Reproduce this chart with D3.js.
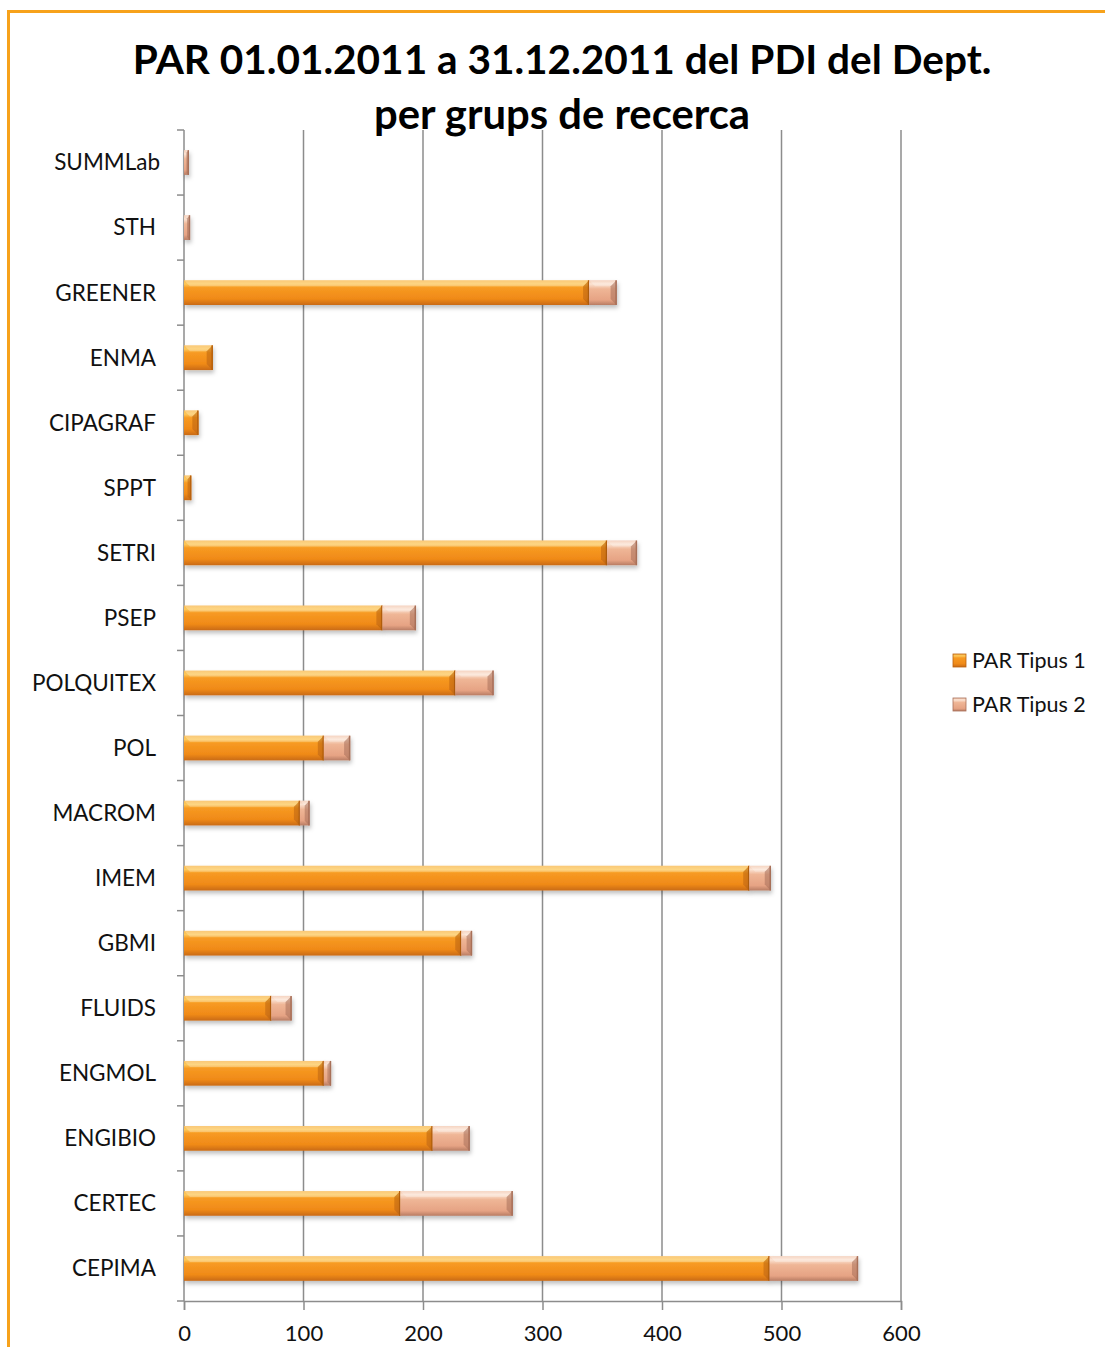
<!DOCTYPE html>
<html>
<head>
<meta charset="utf-8">
<script src="https://cdn.jsdelivr.net/npm/d3@7"></script>
<style>
  body { margin: 0; background: #fff; }
  svg { display: block; }
</style>
</head>
<body>
<div id="chart"></div>
<script>
// Chart data
const groups = ["SUMMLab", "STH", "GREENER", "ENMA", "CIPAGRAF", "SPPT", "SETRI", "PSEP",
  "POLQUITEX", "POL", "MACROM", "IMEM", "GBMI", "FLUIDS", "ENGMOL", "ENGIBIO", "CERTEC", "CEPIMA"];
const tipus1 = [0, 0, 339, 24, 12, 6, 354, 166, 227, 117, 97, 473, 232, 73, 117, 208, 181, 490];
const tipus2 = [4, 5, 23, 0, 0, 0, 25, 28, 32, 22, 8, 18, 9, 17, 6, 31, 94, 74];
const seriesNames = ["PAR Tipus 1", "PAR Tipus 2"];
const xTicks = [0, 100, 200, 300, 400, 500, 600];
const titleLines = ["PAR 01.01.2011 a 31.12.2011 del PDI del Dept.", "per grups de recerca"];

const W = 1105, H = 1347;
const plot = { left: 184, right: 901, top: 130, bottom: 1301 };
const font = "Lato, 'Open Sans', sans-serif";

const svg = d3.select('#chart').append('svg')
  .attr('width', W).attr('height', H);

const defs = svg.append('defs');

// bar gradients (bevelled look)
function vGrad(id, stops) {
  const g = defs.append('linearGradient').attr('id', id)
    .attr('x1', 0).attr('y1', 0).attr('x2', 0).attr('y2', 1);
  stops.forEach(s => g.append('stop').attr('offset', s[0]).attr('stop-color', s[1]));
}
vGrad('g1', [[0, '#f9b64a'], [0.15, '#fcc85a'], [0.3, '#f79a22'], [0.75, '#f08a18'], [1, '#c96a16']]);
vGrad('g2', [[0, '#f2c6ad'], [0.15, '#fbe3d3'], [0.35, '#efb696'], [0.8, '#e6a384'], [1, '#b87c63']]);

const shadow = defs.append('filter').attr('id', 'shadow')
  .attr('x', '-5%').attr('y', '-30%').attr('width', '110%').attr('height', '180%');
shadow.append('feDropShadow').attr('dx', 1).attr('dy', 3).attr('stdDeviation', 2)
  .attr('flood-color', '#000').attr('flood-opacity', 0.25);

// orange frame
svg.append('rect')
  .attr('x', 8.5).attr('y', 11.5).attr('width', W + 20).attr('height', H + 20)
  .attr('fill', 'none').attr('stroke', '#f7a21b').attr('stroke-width', 3);

// scales
const x = d3.scaleLinear().domain([0, 600]).range([plot.left, plot.right]);
const y = d3.scaleBand().domain(groups).range([plot.top, plot.bottom]).paddingInner(0.62).paddingOuter(0.31);

// gridlines
svg.append('g').selectAll('line')
  .data(xTicks.slice(1))
  .join('line')
  .attr('x1', d => x(d)).attr('x2', d => x(d))
  .attr('y1', plot.top).attr('y2', plot.bottom)
  .attr('stroke', '#8c8c8c').attr('stroke-width', 1.5);

// bottom axis
const xAxis = svg.append('g')
  .attr('transform', `translate(0,${plot.bottom})`)
  .call(d3.axisBottom(x).tickValues(xTicks).tickSize(9).tickPadding(15));
xAxis.select('.domain').attr('stroke', '#8c8c8c').attr('stroke-width', 1.5);
xAxis.selectAll('.tick line').attr('stroke', '#8c8c8c').attr('stroke-width', 1.5);
xAxis.selectAll('text').attr('font-family', font).attr('font-size', 22).attr('fill', '#111');

// category axis: line with ticks between categories
const catAxis = svg.append('g');
catAxis.append('line')
  .attr('x1', plot.left).attr('x2', plot.left)
  .attr('y1', plot.top).attr('y2', plot.bottom)
  .attr('stroke', '#8c8c8c').attr('stroke-width', 1.5);
catAxis.selectAll('line.tk')
  .data(d3.range(groups.length + 1))
  .join('line').attr('class', 'tk')
  .attr('x1', plot.left - 7).attr('x2', plot.left)
  .attr('y1', i => plot.top + i * (plot.bottom - plot.top) / groups.length)
  .attr('y2', i => plot.top + i * (plot.bottom - plot.top) / groups.length)
  .attr('stroke', '#8c8c8c').attr('stroke-width', 1.5);
catAxis.selectAll('text')
  .data(groups)
  .join('text')
  .attr('x', d => d === 'SUMMLab' ? 160 : 156)
  .attr('y', d => y(d) + y.bandwidth() / 2)
  .attr('dy', '0.35em')
  .attr('text-anchor', 'end')
  .attr('font-family', font).attr('font-size', 22.5).attr('fill', '#111')
  .text(d => d);

// stacked bars
const rows = groups.map((g, i) => ({ group: g, t1: tipus1[i], t2: tipus2[i] }));
const stack = d3.stack().keys(['t1', 't2'])(rows);
const fills = ['url(#g1)', 'url(#g2)'];
const edge = ['#b9620f', '#a86f59'];

stack.forEach((layer, li) => {
  const g = svg.append('g').attr('filter', 'url(#shadow)');
  layer.forEach(d => {
    const x0 = x(d[0]), x1 = x(d[1]);
    if (x1 - x0 <= 0) return;
    const yy = y(d.data.group), h = y.bandwidth();
    const bev = Math.min(6, (x1 - x0) / 2);
    g.append('rect')
      .attr('x', x0).attr('y', yy).attr('width', x1 - x0).attr('height', h)
      .attr('fill', fills[li]);
    // bevel at right end
    g.append('polygon')
      .attr('points', `${x1 - bev},${yy + bev} ${x1},${yy} ${x1},${yy + h} ${x1 - bev},${yy + h - bev}`)
      .attr('fill', edge[li]).attr('opacity', 0.55);
    // highlight along the top
    g.append('polygon')
      .attr('points', `${x0},${yy} ${x1},${yy} ${x1 - bev},${yy + bev} ${x0 + bev},${yy + bev}`)
      .attr('fill', '#fff').attr('opacity', 0.25);
    g.append('line')
      .attr('x1', x1 - 0.5).attr('x2', x1 - 0.5).attr('y1', yy).attr('y2', yy + h)
      .attr('stroke', edge[li]).attr('stroke-width', 1.5);
  });
});

// title, fitted to the reference width
const title = svg.append('g');
const t1 = title.append('text')
  .attr('x', 562).attr('y', 74).attr('text-anchor', 'middle')
  .attr('font-family', font).attr('font-weight', 'bold').attr('font-size', 40)
  .attr('fill', '#000').text(titleLines[0]);
const fs = 40 * 859 / t1.node().getComputedTextLength();
t1.attr('font-size', fs);
title.append('text')
  .attr('x', 562).attr('y', 129).attr('text-anchor', 'middle')
  .attr('font-family', font).attr('font-weight', 'bold').attr('font-size', fs * 1.03)
  .attr('fill', '#000').text(titleLines[1]);

// legend
const legend = svg.append('g').attr('transform', 'translate(953,648)');
seriesNames.forEach((name, i) => {
  const row = legend.append('g').attr('transform', `translate(0,${i * 44})`);
  row.append('rect').attr('x', 0).attr('y', 6).attr('width', 13).attr('height', 13)
    .attr('fill', fills[i]).attr('stroke', edge[i]).attr('stroke-width', 0.8);
  row.append('text').attr('x', 19).attr('y', 12).attr('dy', '0.35em')
    .attr('font-family', font).attr('font-size', 21.5).attr('fill', '#111')
    .text(name);
});
</script>
</body>
</html>
